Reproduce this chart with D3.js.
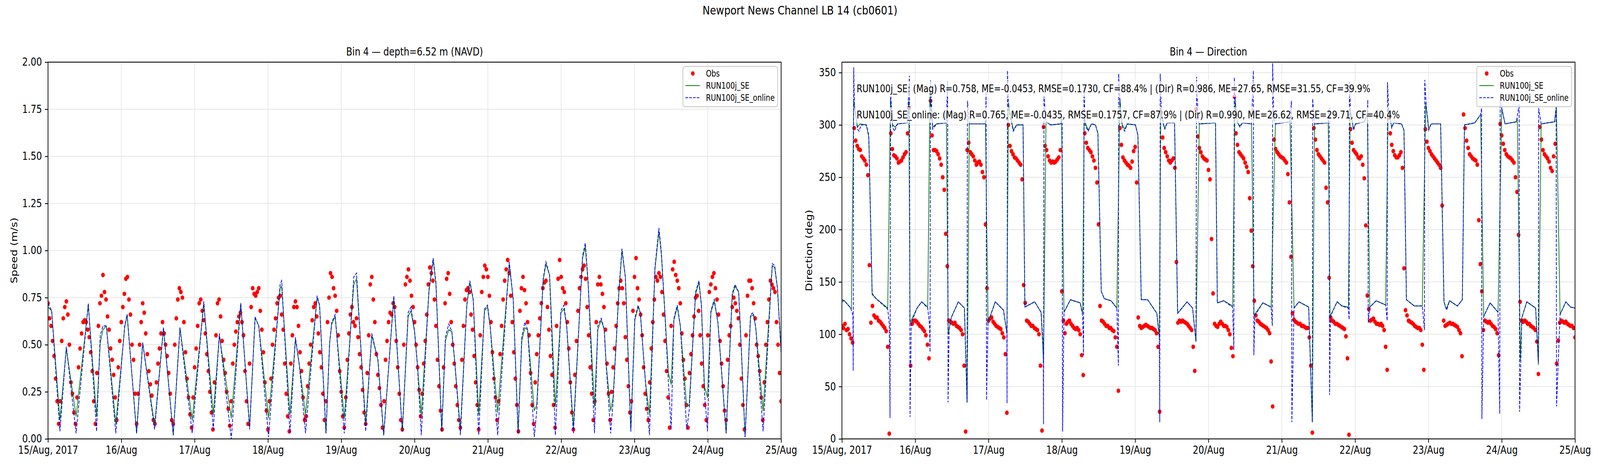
<!DOCTYPE html>
<html>
<head>
<meta charset="utf-8">
<script src="https://cdn.jsdelivr.net/npm/d3@7"></script>
<style>
  html, body { margin: 0; padding: 0; background: #fff; overflow: hidden; }
  #chart { display: block; width: 100vw; height: 100vh; }
  text { font-family: "DejaVu Sans", sans-serif; }
</style>
</head>
<body>
<svg id="chart" viewBox="0 0 5000 1200" preserveAspectRatio="none"></svg>
<script>
// ---- text ----
const figTitle = "Newport News Channel LB 14 (cb0601)";
const speedTitle = "Bin 4 \u2014 depth=6.52 m (NAVD)";
const dirTitle = "Bin 4 \u2014 Direction";
const seriesNames = ["Obs", "RUN100j_SE", "RUN100j_SE_online"];
const statsLines = [
  "RUN100j_SE: (Mag) R=0.758, ME=-0.0453, RMSE=0.1730, CF=88.4% | (Dir) R=0.986, ME=27.65, RMSE=31.55, CF=39.9%",
  "RUN100j_SE_online: (Mag) R=0.765, ME=-0.0435, RMSE=0.1757, CF=87.9% | (Dir) R=0.990, ME=26.62, RMSE=29.71, CF=40.4%"
];

// ---- ticks (time in hours from 15/Aug 00:00) ----
const dayHours = [0, 24, 48, 72, 96, 120, 144, 168, 192, 216, 240];
const dayLabels = ["15/Aug, 2017", "16/Aug", "17/Aug", "18/Aug", "19/Aug", "20/Aug",
                   "21/Aug", "22/Aug", "23/Aug", "24/Aug", "25/Aug"];
const speedTicks = [0, 0.25, 0.5, 0.75, 1.0, 1.25, 1.5, 1.75, 2.0];
const dirTicks = [0, 50, 100, 150, 200, 250, 300, 350];

// ---- observations, one value every half hour ----
const obsStepHours = 0.5;
const obsSpeed = [
  0.72,0.64,0.60,0.52,0.44,0.32,0.20,0.08,0.20,0.52,0.64,0.70,0.73,0.66,0.50,0.30,0.24,0.14,0.08,0.22,0.38,0.48,0.56,0.62,
  0.63,0.62,0.58,0.54,0.46,0.36,0.20,0.08,0.35,0.60,0.72,0.76,0.87,0.78,0.74,0.65,0.58,0.48,0.42,0.34,0.22,0.10,0.38,0.52,
  0.62,0.70,0.77,0.85,0.86,0.74,0.66,0.50,0.42,0.24,0.08,0.24,0.50,0.62,0.72,0.67,0.56,0.45,0.36,0.29,0.23,0.10,0.08,0.30,
  0.40,0.48,0.56,0.62,0.56,0.50,0.44,0.35,0.24,0.10,0.08,0.50,0.64,0.74,0.80,0.78,0.75,0.62,0.46,0.32,0.22,0.13,0.06,0.22,
  0.38,0.48,0.60,0.72,0.74,0.68,0.63,0.56,0.45,0.36,0.25,0.14,0.05,0.30,0.55,0.72,0.74,0.65,0.52,0.42,0.35,0.25,0.16,0.07,
  0.20,0.40,0.50,0.57,0.62,0.65,0.67,0.62,0.55,0.36,0.20,0.08,0.40,0.70,0.80,0.77,0.76,0.78,0.80,0.68,0.58,0.46,0.30,0.15,
  0.05,0.20,0.32,0.50,0.58,0.64,0.72,0.75,0.76,0.66,0.58,0.40,0.24,0.12,0.04,0.40,0.55,0.70,0.73,0.70,0.60,0.46,0.36,0.22,
  0.10,0.12,0.28,0.40,0.50,0.63,0.70,0.72,0.65,0.56,0.46,0.38,0.24,0.10,0.20,0.62,0.75,0.88,0.86,0.80,0.76,0.68,0.55,0.36,
  0.25,0.12,0.06,0.22,0.42,0.56,0.66,0.70,0.62,0.60,0.64,0.54,0.45,0.38,0.26,0.14,0.08,0.35,0.55,0.82,0.86,0.74,0.62,0.45,
  0.34,0.27,0.18,0.06,0.20,0.42,0.52,0.62,0.67,0.66,0.72,0.70,0.52,0.38,0.24,0.10,0.05,0.50,0.82,0.86,0.90,0.84,0.76,0.70,
  0.62,0.50,0.38,0.26,0.12,0.24,0.40,0.52,0.66,0.82,0.91,0.88,0.84,0.74,0.60,0.42,0.28,0.15,0.05,0.38,0.72,0.85,0.88,0.77,
  0.62,0.50,0.40,0.28,0.18,0.10,0.06,0.42,0.60,0.74,0.79,0.80,0.78,0.66,0.58,0.44,0.30,0.18,0.05,0.55,0.78,0.86,0.92,0.90,
  0.86,0.76,0.62,0.46,0.32,0.22,0.10,0.20,0.45,0.60,0.74,0.84,0.90,0.95,0.88,0.76,0.62,0.46,0.32,0.18,0.04,0.68,0.80,0.86,
  0.79,0.72,0.62,0.55,0.35,0.18,0.08,0.30,0.45,0.55,0.64,0.72,0.80,0.83,0.84,0.70,0.58,0.44,0.34,0.18,0.06,0.60,0.85,0.95,
  0.86,0.80,0.78,0.72,0.62,0.48,0.30,0.14,0.05,0.34,0.52,0.68,0.80,0.86,0.90,0.92,0.85,0.70,0.55,0.38,0.24,0.10,0.20,0.62,
  0.82,0.86,0.82,0.77,0.70,0.58,0.40,0.24,0.10,0.25,0.38,0.48,0.60,0.72,0.80,0.84,0.80,0.72,0.54,0.42,0.28,0.14,0.20,0.68,
  0.86,0.96,0.80,0.74,0.66,0.55,0.38,0.24,0.16,0.10,0.30,0.48,0.62,0.74,0.86,0.84,0.88,0.86,0.78,0.66,0.52,0.36,0.22,0.06,
  0.60,0.90,0.94,0.87,0.84,0.80,0.72,0.56,0.42,0.32,0.18,0.06,0.35,0.45,0.55,0.65,0.75,0.76,0.68,0.55,0.40,0.28,0.18,0.10,
  0.55,0.78,0.82,0.86,0.88,0.80,0.74,0.66,0.52,0.40,0.28,0.15,0.10,0.42,0.55,0.60,0.70,0.75,0.72,0.68,0.64,0.50,0.32,0.18,
  0.05,0.55,0.76,0.84,0.84,0.80,0.72,0.64,0.50,0.44,0.36,0.22,0.10,0.30,0.50,0.62,0.74,0.84,0.82,0.80,0.78,0.62,0.50,0.35,
  0.20
];
const obsDir = [
  108,106,110,104,105,100,96,92,297,285,280,277,276,270,268,266,262,252,166,111,127,118,116,116,
  113,112,110,108,106,103,88,5,292,277,271,270,268,264,265,266,269,272,274,292,316,70,110,113,
  113,112,110,108,107,105,103,99,90,77,323,290,276,276,275,272,268,262,250,238,196,165,113,112,
  111,110,111,108,107,106,104,100,70,7,276,283,274,272,270,266,262,264,265,262,255,250,205,144,
  113,115,116,112,110,108,107,106,105,101,97,81,25,300,280,275,272,269,268,266,264,262,248,147,
  130,113,112,110,108,108,106,105,104,100,70,8,298,280,276,270,266,264,265,264,265,267,269,276,
  141,113,101,110,112,113,110,108,106,105,106,104,100,80,61,292,283,278,276,274,270,266,259,245,
  205,127,113,112,110,108,108,106,106,104,103,97,88,46,297,281,269,266,264,262,261,259,265,275,
  279,245,116,108,106,107,108,109,108,107,106,106,105,104,101,88,26,312,288,278,274,270,266,264,
  266,268,259,169,111,113,112,113,112,111,110,108,106,104,88,65,315,289,278,274,270,268,267,266,
  257,248,191,139,110,108,107,110,112,110,108,108,107,104,100,87,79,327,292,281,274,272,270,268,
  264,260,255,230,199,165,132,118,113,112,110,109,108,107,106,104,101,74,31,286,277,274,272,270,
  269,268,266,264,253,226,174,120,114,112,111,110,110,108,108,107,106,106,97,70,6,297,286,276,
  272,270,268,266,264,240,226,154,116,113,112,110,110,109,108,107,106,105,98,77,4,296,283,276,
  274,272,269,268,270,262,249,204,137,124,113,114,115,112,110,110,109,110,108,104,88,66,307,292,
  281,275,271,269,269,271,274,259,163,123,118,113,112,111,110,108,107,106,106,104,90,66,296,284,
  278,275,272,270,268,266,264,262,259,223,113,108,109,110,111,110,110,109,108,107,104,101,79,310,
  297,285,278,272,270,268,267,266,262,209,167,141,104,113,112,111,112,110,108,107,105,101,80,301,
  290,282,276,272,270,269,268,266,264,250,236,195,131,113,112,113,112,110,110,108,107,106,104,93,
  62,298,286,276,272,270,268,265,259,256,270,282,72,94,111,113,112,111,112,110,109,108,108,106,
  97
];

// ---- model speed (m/s), shared time vertices (hours) ----
const speedHours = [
  0,1.2,3.9,6.0,9.2,13.2,15.9,17.1,18.0,19.1,
  22.2,25.1,25.9,29.0,31.0,34.9,37.8,41.0,43.2,47.2,
  51.0,54.1,56.1,60.0,63.1,66.0,67.8,68.2,69.0,72.2,
  76.0,76.5,79.2,81.0,82.3,84.3,88.1,88.9,91.0,92.2,
  92.9,94.0,97.0,100.1,101.0,104.0,106.0,108.0,109.9,113.2,
  116.0,117.9,118.8,120.0,120.9,122.2,124.7,126.1,127.0,128.9,
  130.1,131.2,132.2,133.1,135.0,137.1,138.1,139.2,141.0,142.9,
  143.9,144.8,147.2,151.0,152.3,153.9,155.1,156.1,157.0,159.2,
  160.0,162.1,163.0,164.2,166.1,167.9,168.9,169.8,172.0,175.0,
  175.9,176.8,178.9,180.0,181.1,182.1,182.7,184.2,185.0,186.9,
  187.9,189.0,190.8,192.1,193.2,193.9,195.6,196.9,198.7,200.0,
  200.8,201.8,203.1,204.0,204.9,206.0,207.0,209.1,209.9,212.0,
  213.1,213.9,214.9,215.9,217.0,218.1,219.3,222.0,224.0,224.9,
  226.1,227.1,228.2,230.0,230.9,231.7,234.1,237.1,237.9,238.8,
  240.0
];
const speedSE = [
  0.70,0.68,0.10,0.48,0.12,0.71,0.12,0.51,0.58,0.60,
  0.08,0.59,0.66,0.03,0.51,0.07,0.59,0.02,0.59,0.10,
  0.72,0.13,0.55,0.11,0.72,0.06,0.64,0.63,0.60,0.11,
  0.80,0.81,0.13,0.53,0.39,0.13,0.75,0.71,0.03,0.51,
  0.61,0.65,0.11,0.82,0.85,0.08,0.55,0.42,0.02,0.75,
  0.04,0.65,0.68,0.57,0.40,0.13,0.78,0.95,0.82,0.04,
  0.52,0.58,0.57,0.42,0.05,0.71,0.83,0.74,0.13,0.68,
  0.70,0.59,0.14,0.93,0.74,0.03,0.52,0.59,0.58,0.15,
  0.18,0.84,0.93,0.87,0.17,0.67,0.69,0.60,0.06,0.96,
  1.02,0.83,0.17,0.58,0.63,0.58,0.40,0.15,0.22,0.78,
  1.00,0.86,0.04,0.63,0.70,0.67,0.30,0.13,0.90,1.10,
  0.98,0.71,0.35,0.29,0.63,0.70,0.60,0.17,0.18,0.77,
  0.83,0.71,0.28,0.22,0.67,0.73,0.62,0.03,0.76,0.81,
  0.78,0.43,0.01,0.65,0.66,0.59,0.15,0.92,0.91,0.80,
  0.46
];
const speedOnline = [
  0.72,0.68,0.04,0.49,0.03,0.72,0.04,0.55,0.60,0.60,
  0.03,0.60,0.66,0.03,0.51,0.05,0.59,0.02,0.59,0.03,
  0.73,0.05,0.56,0.00,0.72,0.05,0.65,0.63,0.60,0.01,
  0.82,0.84,0.03,0.54,0.39,0.03,0.76,0.71,0.03,0.51,
  0.62,0.66,0.03,0.86,0.88,0.04,0.56,0.42,0.02,0.76,
  0.04,0.67,0.70,0.57,0.40,0.02,0.79,0.96,0.83,0.04,
  0.54,0.61,0.57,0.42,0.02,0.71,0.84,0.74,0.02,0.69,
  0.71,0.59,0.02,0.94,0.74,0.03,0.54,0.62,0.58,0.01,
  0.15,0.85,0.94,0.87,0.02,0.68,0.71,0.60,0.03,0.97,
  1.04,0.84,0.03,0.60,0.64,0.58,0.40,0.03,0.20,0.79,
  1.01,0.86,0.04,0.64,0.71,0.67,0.30,0.02,0.91,1.12,
  0.99,0.71,0.30,0.05,0.64,0.71,0.60,0.05,0.15,0.78,
  0.84,0.71,0.25,0.04,0.68,0.74,0.62,0.03,0.77,0.82,
  0.78,0.43,0.01,0.66,0.67,0.59,0.04,0.93,0.92,0.80,
  0.46
];

// ---- model direction (deg) ----
const dirHoursSE = [
  0,0.8,2.9,3.1,3.85,5.1,5.9,8.0,8.8,9.9,
  11.2,15.0,15.9,16.6,17.4,18.2,21.4,21.9,22.3,24.6,
  26.1,28.1,28.8,29.7,31.0,34.2,34.8,35.8,38.1,40.1,
  41.0,41.7,47.0,47.8,50.2,52.9,54.0,54.5,56.1,57.2,
  59.3,59.9,63.1,65.2,66.0,66.8,68.4,71.6,71.9,72.7,
  74.8,78.0,78.8,79.3,80.6,81.7,83.0,83.8,84.9,85.9,
  88.1,90.0,91.0,91.8,92.6,93.4,96.1,96.9,98.0,100.1,
  103.1,103.9,104.4,105.2,105.7,106.5,108.9,109.9,113.0,114.8,
  115.9,117.0,122.3,122.9,125.0,127.9,128.7,129.5,130.3,131.1,
  134.1,134.9,137.8,140.5,141.9,146.7,148.0,149.6,152.8,154.0,
  154.7,159.2,159.8,162.1,163.7,165.8,166.4,167.5,168.1,171.0,
  172.0,172.8,174.9,178.0,178.8,180.0,180.6,183.2,184.0,184.8,
  187.4,190.0,191.1,192.1,192.9,196.0,197.1,197.8,198.9,201.5,
  203.1,203.8,207.2,209.1,210.1,212.2,214.8,216.0,217.1,220.8,
  221.1,222.1,222.6,224.2,227.1,228.0,228.9,233.3,233.9,235.1,
  237.0,238.5,240.0
];
const dirSE = [
  131,132,125,124,323,298,301,300,288,138,
  134,125,325,300,298,301,302,323,111,125,
  131,126,331,298,301,302,100,116,131,125,
  35,301,301,111,131,123,101,321,295,300,
  300,126,131,121,74,303,300,301,306,121,
  133,130,120,305,295,301,300,292,141,134,
  132,125,325,300,296,301,300,290,133,133,
  120,97,316,301,297,302,302,120,131,125,
  93,301,302,130,132,127,325,302,299,302,
  301,118,130,126,301,303,125,131,126,16,
  301,302,117,131,127,126,314,296,301,303,
  310,126,132,128,316,298,302,301,295,133,
  127,127,321,296,301,301,131,124,132,127,
  133,300,302,310,117,130,121,316,301,303,
  306,75,116,131,125,71,301,303,317,119,
  131,126,125
];
const dirHoursOnline = [
  0,0.8,2.9,3.6,3.7,3.85,4.1,5.1,5.6,6.3,
  8.0,8.8,9.9,11.2,15.0,15.5,15.75,15.95,16.6,17.2,
  18.2,21.4,22.1,22.3,22.7,24.6,26.1,28.1,28.7,28.85,
  29.0,29.7,31.0,34.2,34.6,34.75,35.1,35.8,38.1,40.1,
  40.95,41.1,41.7,47.0,47.2,47.35,47.8,50.2,52.9,54.0,
  54.05,54.2,54.6,56.1,57.2,59.3,59.9,63.1,65.2,65.9,
  66.0,66.15,66.8,68.4,71.6,72.1,72.25,72.7,74.8,78.0,
  78.8,79.1,79.25,79.6,80.6,81.7,83.0,83.8,84.9,85.9,
  88.1,90.0,90.5,90.6,91.2,91.8,92.6,93.4,96.1,96.9,
  98.0,100.1,103.1,103.9,104.05,104.2,104.6,105.2,105.7,106.5,
  108.9,109.9,113.0,114.8,115.9,116.1,116.6,117.0,122.3,122.9,
  125.0,127.9,128.3,128.45,128.9,129.5,130.3,131.1,134.1,134.7,
  134.85,135.2,137.8,140.5,140.9,141.0,141.4,141.9,146.7,147.15,
  147.3,148.0,149.6,152.8,154.0,154.1,154.7,159.2,159.5,159.65,
  159.9,162.1,163.7,165.8,166.05,166.15,166.5,167.5,168.1,171.0,
  172.0,172.15,172.3,172.8,174.9,178.0,178.5,178.6,179.0,180.0,
  180.6,183.2,184.0,184.8,187.4,190.0,190.7,190.8,191.3,192.1,
  192.9,196.0,197.1,198.0,198.9,201.5,203.1,203.8,207.2,209.1,
  209.4,209.5,210.1,212.2,214.8,215.35,215.5,216.0,217.1,220.8,
  221.7,221.85,222.6,224.2,227.1,228.0,228.1,228.9,233.3,233.8,
  233.95,235.1,237.0,238.5,240.0
];
const dirOnline = [
  133,132,125,118,65,355,320,296,294,300,
  300,290,139,134,124,110,20,330,298,294,
  301,302,347,21,111,125,131,125,108,83,
  343,296,301,302,342,35,105,116,131,125,
  35,323,301,301,332,37,111,131,123,101,
  34,352,315,294,300,300,126,131,121,90,
  14,328,303,300,301,306,7,121,133,130,
  118,80,338,300,294,301,300,292,141,134,
  132,125,70,349,310,298,294,301,300,290,
  133,133,120,97,16,349,310,301,296,302,
  302,120,131,125,93,346,305,301,302,130,
  132,126,85,345,310,302,298,302,301,352,
  80,118,130,126,108,359,305,301,303,323,
  16,125,131,126,16,325,301,302,316,42,
  117,131,127,125,114,341,312,295,301,303,
  310,324,111,126,132,128,113,341,314,297,
  302,301,295,133,127,127,104,343,318,295,
  301,301,131,123,132,127,133,300,302,310,
  316,19,117,130,121,24,323,316,301,303,
  320,26,116,131,125,73,316,301,303,317,
  31,119,131,126,125
];

// ---- drawing (user space is 5000 x 1200, scaled to the window) ----
const svg = d3.select("#chart");
const plotTop = 159, plotBottom = 1123;
const obsHours = obsSpeed.map((d, i) => i * obsStepHours);

svg.append("rect").attr("width", 5000).attr("height", 1200).attr("fill", "#ffffff");

svg.append("text")
  .attr("x", 2500).attr("y", 37)
  .attr("text-anchor", "middle")
  .attr("font-size", 31)
  .text(figTitle);

function drawPanel(cfg) {
  const x = d3.scaleLinear().domain([0, 240]).range([cfg.left, cfg.right]);
  const y = d3.scaleLinear().domain(cfg.yDomain).range([plotBottom, plotTop]);
  const g = svg.append("g");

  // grid
  g.append("g").selectAll("line").data(dayHours).join("line")
    .attr("x1", d => x(d)).attr("x2", d => x(d))
    .attr("y1", plotTop).attr("y2", plotBottom)
    .attr("stroke", "#e5e5e5").attr("stroke-width", 2);
  g.append("g").selectAll("line").data(cfg.yTicks).join("line")
    .attr("x1", cfg.left).attr("x2", cfg.right)
    .attr("y1", d => y(d)).attr("y2", d => y(d))
    .attr("stroke", "#e5e5e5").attr("stroke-width", 2);

  svg.append("clipPath").attr("id", "clip-" + cfg.id)
    .append("rect")
    .attr("x", cfg.left).attr("y", plotTop)
    .attr("width", cfg.right - cfg.left).attr("height", plotBottom - plotTop);
  const plot = g.append("g").attr("clip-path", "url(#clip-" + cfg.id + ")");

  plot.append("g").selectAll("circle").data(cfg.obs).join("circle")
    .attr("cx", (d, i) => x(obsHours[i]))
    .attr("cy", d => y(d))
    .attr("r", 5.8)
    .attr("fill", "#ff0000");

  const line = d3.line().x(d => x(d[0])).y(d => y(d[1]));
  plot.append("path")
    .datum(d3.zip(cfg.seHours, cfg.se))
    .attr("d", line)
    .attr("fill", "none").attr("stroke", "#008000").attr("stroke-width", 2.2)
    .attr("stroke-linejoin", "round");
  plot.append("path")
    .datum(d3.zip(cfg.onHours, cfg.on))
    .attr("d", line)
    .attr("fill", "none").attr("stroke", "#0000ff").attr("stroke-width", 2.2)
    .attr("stroke-dasharray", "8.2,3.6");

  // frame
  g.append("rect")
    .attr("x", cfg.left).attr("y", plotTop)
    .attr("width", cfg.right - cfg.left).attr("height", plotBottom - plotTop)
    .attr("fill", "none").attr("stroke", "#000").attr("stroke-width", 2.2);

  // axes
  const gx = g.append("g")
    .attr("transform", "translate(0," + plotBottom + ")")
    .call(d3.axisBottom(x).tickValues(dayHours)
      .tickFormat((d, i) => dayLabels[i])
      .tickSize(9.7).tickSizeOuter(0).tickPadding(9));
  gx.select(".domain").remove();
  gx.attr("font-size", 27.8).attr("font-family", "DejaVu Sans, sans-serif");
  gx.selectAll(".tick line").attr("stroke-width", 2.2);
  gx.selectAll(".tick text").attr("fill", "#000");

  const gy = g.append("g")
    .attr("transform", "translate(" + cfg.left + ",0)")
    .call(d3.axisLeft(y).tickValues(cfg.yTicks).tickFormat(cfg.yFormat)
      .tickSize(9.7).tickSizeOuter(0).tickPadding(9));
  gy.select(".domain").remove();
  gy.attr("font-size", 27.8).attr("font-family", "DejaVu Sans, sans-serif");
  gy.selectAll(".tick line").attr("stroke-width", 2.2);
  gy.selectAll(".tick text").attr("fill", "#000");

  // titles
  g.append("text")
    .attr("x", (cfg.left + cfg.right) / 2).attr("y", 142)
    .attr("text-anchor", "middle").attr("font-size", 27.8)
    .text(cfg.title);
  g.append("text")
    .attr("transform", "translate(" + cfg.ylabelX + "," + (plotTop + plotBottom) / 2 + ") rotate(-90)")
    .attr("text-anchor", "middle").attr("font-size", 27.8)
    .text(cfg.ylabel);

  return g;
}

function drawLegend(right) {
  const w = 296, h = 103;
  const bx = right - 11 - w, by = 170;
  const g = svg.append("g");
  g.append("rect")
    .attr("x", bx).attr("y", by).attr("width", w).attr("height", h)
    .attr("rx", 6).attr("fill", "#fff").attr("fill-opacity", 0.8)
    .attr("stroke", "#cccccc").attr("stroke-width", 2.5);
  const rows = [188, 219, 250];
  g.append("circle").attr("cx", bx + 31).attr("cy", rows[0]).attr("r", 5.8).attr("fill", "#ff0000");
  g.append("line").attr("x1", bx + 8).attr("x2", bx + 53).attr("y1", rows[1]).attr("y2", rows[1])
    .attr("stroke", "#008000").attr("stroke-width", 2.2);
  g.append("line").attr("x1", bx + 8).attr("x2", bx + 53).attr("y1", rows[2]).attr("y2", rows[2])
    .attr("stroke", "#0000ff").attr("stroke-width", 2.2).attr("stroke-dasharray", "8.2,3.6");
  seriesNames.forEach((name, i) => {
    g.append("text").attr("x", bx + 72).attr("y", rows[i]).attr("dy", "0.36em")
      .attr("font-size", 22.2).text(name);
  });
}

drawPanel({
  id: "speed", left: 150, right: 2441,
  yDomain: [0, 2], yTicks: speedTicks, yFormat: d3.format(".2f"),
  obs: obsSpeed, seHours: speedHours, se: speedSE, onHours: speedHours, on: speedOnline,
  title: speedTitle, ylabel: "Speed (m/s)", ylabelX: 54
});
drawLegend(2441);

drawPanel({
  id: "dir", left: 2631, right: 4922,
  yDomain: [0, 360], yTicks: dirTicks, yFormat: d3.format("d"),
  obs: obsDir, seHours: dirHoursSE, se: dirSE, onHours: dirHoursOnline, on: dirOnline,
  title: dirTitle, ylabel: "Direction (deg)", ylabelX: 2538
});

// stats boxes over the direction panel
const statsY = [227, 294];
statsLines.forEach((s, i) => {
  const gs = svg.append("g");
  const t = gs.append("text")
    .attr("x", 2677).attr("y", statsY[i]).attr("dy", "0.36em")
    .attr("font-size", 26).text(s);
  const bb = t.node().getBBox();
  gs.insert("rect", "text")
    .attr("x", bb.x - 6).attr("y", bb.y - 5)
    .attr("width", bb.width + 12).attr("height", bb.height + 10)
    .attr("fill", "#fff").attr("fill-opacity", 0.7);
});
drawLegend(4922);
</script>
</body>
</html>
